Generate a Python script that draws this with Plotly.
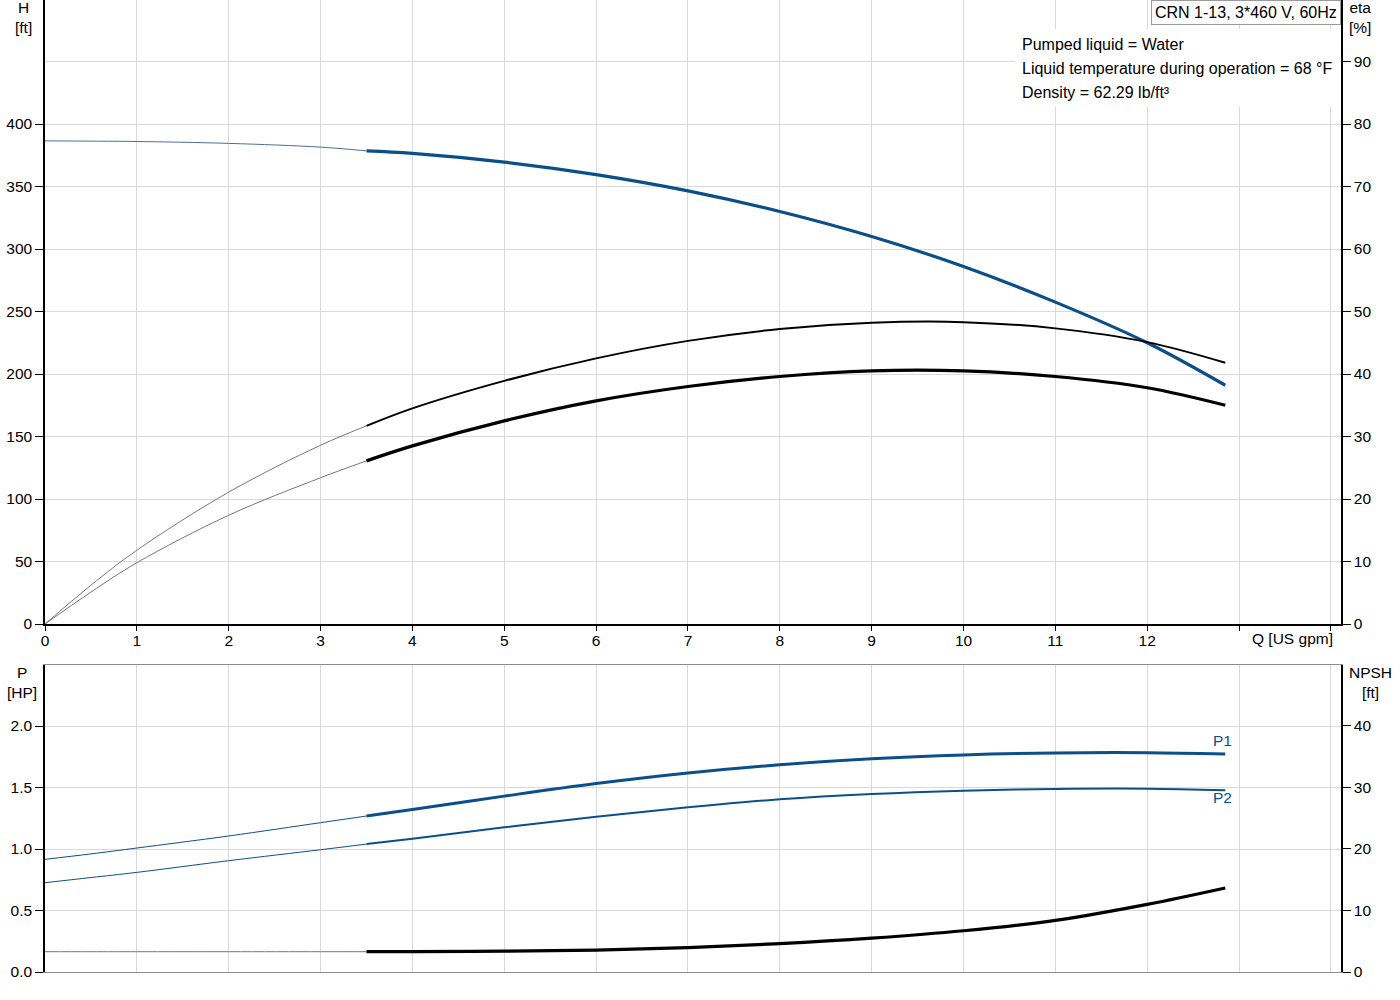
# Pump performance curves - CRN 1-13, 3*460 V, 60Hz
import plotly.graph_objects as go

# Flow points [US gpm]
q_gpm = [0, 0.5, 1, 2, 3, 3.5, 4, 5, 6, 7, 8, 9, 10, 11, 12, 12.85]

# Head [ft]
head_ft = [386.5, 386.3, 386, 384.5, 381.5, 378.5, 376.5, 369.5, 359.5, 346.5, 330, 310, 286, 257.5, 225, 191]

# Efficiencies [%]
eta_pump = [0, 6.2, 11.8, 21.1, 28.6, 31.7, 34.5, 38.9, 42.5, 45.3, 47.2, 48.2, 48.3, 47.3, 45.1, 41.8]
eta_total = [0, 5.1, 9.8, 17.4, 23.4, 26.1, 28.5, 32.5, 35.7, 38.0, 39.6, 40.5, 40.5, 39.6, 37.8, 35.0]

# Power [HP]
p1_hp = [0.916, 0.96, 1.008, 1.106, 1.214, 1.268, 1.322, 1.43, 1.532, 1.618, 1.685, 1.734, 1.765, 1.781, 1.783, 1.772]
p2_hp = [0.726, 0.768, 0.81, 0.905, 0.994, 1.04, 1.084, 1.176, 1.263, 1.339, 1.404, 1.447, 1.474, 1.488, 1.49, 1.477]

# NPSH [ft]
npsh_ft = [3.3, 3.3, 3.3, 3.3, 3.3, 3.3, 3.32, 3.38, 3.55, 3.95, 4.6, 5.5, 6.7, 8.4, 11.0, 13.66]

# Axis ticks
q_ticks = [0, 1, 2, 3, 4, 5, 6, 7, 8, 9, 10, 11, 12, 13, 14]
q_labels = ["0", "1", "2", "3", "4", "5", "6", "7", "8", "9", "10", "11", "12", "", ""]
h_ticks = [0, 50, 100, 150, 200, 250, 300, 350, 400]
eta_ticks = [0, 10, 20, 30, 40, 50, 60, 70, 80, 90]
p_ticks = [0, 0.5, 1.0, 1.5, 2.0]
p_labels = ["0.0", "0.5", "1.0", "1.5", "2.0"]
npsh_ticks = [0, 10, 20, 30, 40]

info_lines = ["Pumped liquid = Water",
              "Liquid temperature during operation = 68 °F",
              "Density = 62.29 lb/ft³"]

BLUE = "#0b4f8a"
GRID = "#d9d9d9"
FONT = "Arial, Liberation Sans, sans-serif"
Q_SPLIT = 3.5


def split(values):
    # thin part up to the start of the operating range, thick part afterwards
    thin_x = [q for q in q_gpm if q <= Q_SPLIT]
    thin_y = [v for q, v in zip(q_gpm, values) if q <= Q_SPLIT]
    thick_x = [q for q in q_gpm if q >= Q_SPLIT]
    thick_y = [v for q, v in zip(q_gpm, values) if q >= Q_SPLIT]
    return thin_x, thin_y, thick_x, thick_y


def add_curve(fig, values, xaxis, yaxis, thin_color, thick_color, thick_width):
    tx, ty, kx, ky = split(values)
    fig.add_trace(go.Scatter(x=tx, y=ty, xaxis=xaxis, yaxis=yaxis, mode="lines",
                             line=dict(color=thin_color, width=1, shape="spline"),
                             showlegend=False, hoverinfo="skip"))
    fig.add_trace(go.Scatter(x=kx, y=ky, xaxis=xaxis, yaxis=yaxis, mode="lines",
                             line=dict(color=thick_color, width=thick_width, shape="spline"),
                             showlegend=False))


fig = go.Figure()

# Top panel: H and eta
add_curve(fig, head_ft, "x", "y", "#4a6f99", BLUE, 3.2)
add_curve(fig, eta_pump, "x", "y2", "#777777", "black", 2)
add_curve(fig, eta_total, "x", "y2", "#777777", "black", 3.2)

# Bottom panel: P1, P2, NPSH
add_curve(fig, p1_hp, "x2", "y3", BLUE, BLUE, 3)
add_curve(fig, p2_hp, "x2", "y3", BLUE, BLUE, 2)
add_curve(fig, npsh_ft, "x2", "y4", "#777777", "black", 3.2)

tick_font = dict(family=FONT, size=15.5, color="black")
top_bottom = 1 - 624 / 972
bot_top = 1 - 665 / 972

fig.update_layout(
    width=1400, height=1000,
    margin=dict(l=45, r=59, t=0, b=28, autoexpand=False),
    paper_bgcolor="white", plot_bgcolor="white",
    font=dict(family=FONT, size=16, color="black"),
    xaxis=dict(domain=[0, 1], anchor="y", range=[0, 14.11], tickvals=q_ticks, ticktext=q_labels,
               showgrid=True, gridcolor=GRID, gridwidth=1, ticks="outside", ticklen=5,
               tickcolor="black", showline=True, linecolor="black", linewidth=1.5,
               tickfont=tick_font, zeroline=False, automargin=False, ticklabelstandoff=-3),
    yaxis=dict(domain=[top_bottom, 1], anchor="x", range=[0, 499.2], tickvals=h_ticks,
               showgrid=True, gridcolor=GRID, gridwidth=1, ticks="outside", ticklen=8,
               tickcolor="black", showline=True, linecolor="black", linewidth=1.5,
               tickfont=tick_font, zeroline=False, automargin=False),
    yaxis2=dict(overlaying="y", side="right", anchor="x", range=[0, 99.84], tickvals=eta_ticks,
                showgrid=False, ticks="outside", ticklen=8, tickcolor="black",
                showline=True, linecolor="black", linewidth=1.5, tickfont=tick_font,
                zeroline=False, automargin=False),
    xaxis2=dict(domain=[0, 1], anchor="y3", range=[0, 14.11], tickvals=q_ticks,
                showticklabels=False, showgrid=True, gridcolor=GRID, gridwidth=1, ticks="",
                showline=True, linecolor="#8c8c8c", linewidth=1.2, mirror=True,
                zeroline=False, automargin=False),
    yaxis3=dict(domain=[0, bot_top], anchor="x2", range=[0, 2.496], tickvals=p_ticks,
                ticktext=p_labels, showgrid=True, gridcolor=GRID, gridwidth=1, ticks="outside",
                ticklen=8, tickcolor="black", showline=True, linecolor="black", linewidth=1.5,
                tickfont=tick_font, zeroline=False, automargin=False),
    yaxis4=dict(overlaying="y3", side="right", anchor="x2", range=[0, 49.9], tickvals=npsh_ticks,
                showgrid=False, ticks="outside", ticklen=8, tickcolor="black",
                showline=True, linecolor="black", linewidth=1.5, tickfont=tick_font,
                zeroline=False, automargin=False),
)

# extra gridline at 450 ft (no tick label)
fig.add_shape(type="line", xref="x", yref="y", x0=0, x1=14.11, y0=450, y1=450,
              line=dict(color=GRID, width=1), layer="below")

# white backing behind the liquid info text
fig.add_shape(type="rect", xref="x", yref="y", x0=10.56, x1=14.1, y0=414, y1=476,
              line=dict(width=0), fillcolor="white", layer="above")

# model box
fig.add_annotation(xref="paper", yref="paper", x=1, y=1.0, xanchor="right", yanchor="top",
                   text="CRN 1-13, 3*460 V, 60Hz", showarrow=False,
                   font=dict(family=FONT, size=16, color="black"),
                   bgcolor="white", bordercolor="#9a9a9a", borderwidth=1, borderpad=3)

# liquid info lines
for i, line in enumerate(info_lines):
    fig.add_annotation(xref="paper", yref="paper", x=(1020 - 45) / 1296,
                       y=1 - (44 + 24 * i) / 972, xanchor="left", yanchor="middle",
                       text=line, showarrow=False, font=dict(family=FONT, size=16, color="black"))

# axis titles
axis_titles = [
    ("H<br>[ft]", (23 - 45) / 1296, 1.003),
    ("eta<br>[%]", (1360 - 45) / 1296, 1.003),
    ("P<br>[HP]", (22 - 45) / 1296, 1 - 662 / 972),
    ("NPSH<br>[ft]", (1370 - 45) / 1296, 1 - 662 / 972),
]
for text, x, y in axis_titles:
    fig.add_annotation(xref="paper", yref="paper", x=x, y=y, xanchor="center", yanchor="top",
                       text=text, showarrow=False, font=dict(family=FONT, size=15.5, color="black"))

fig.add_annotation(xref="paper", yref="paper", x=(1292 - 45) / 1296, y=1 - 638 / 972,
                   xanchor="center", yanchor="middle", text="Q [US gpm]", showarrow=False,
                   font=dict(family=FONT, size=15.5, color="black"))

# curve labels
fig.add_annotation(xref="x2", yref="y3", x=12.82, y=1.886, text="P1", showarrow=False,
                   font=dict(family=FONT, size=15.5, color=BLUE))
fig.add_annotation(xref="x2", yref="y3", x=12.82, y=1.415, text="P2", showarrow=False,
                   font=dict(family=FONT, size=15.5, color=BLUE))

# drop the default page margin so the figure sits at the window corner
fig.write_html("out.html", config={"displayModeBar": False},
               post_script="document.body.style.margin='0px';")
